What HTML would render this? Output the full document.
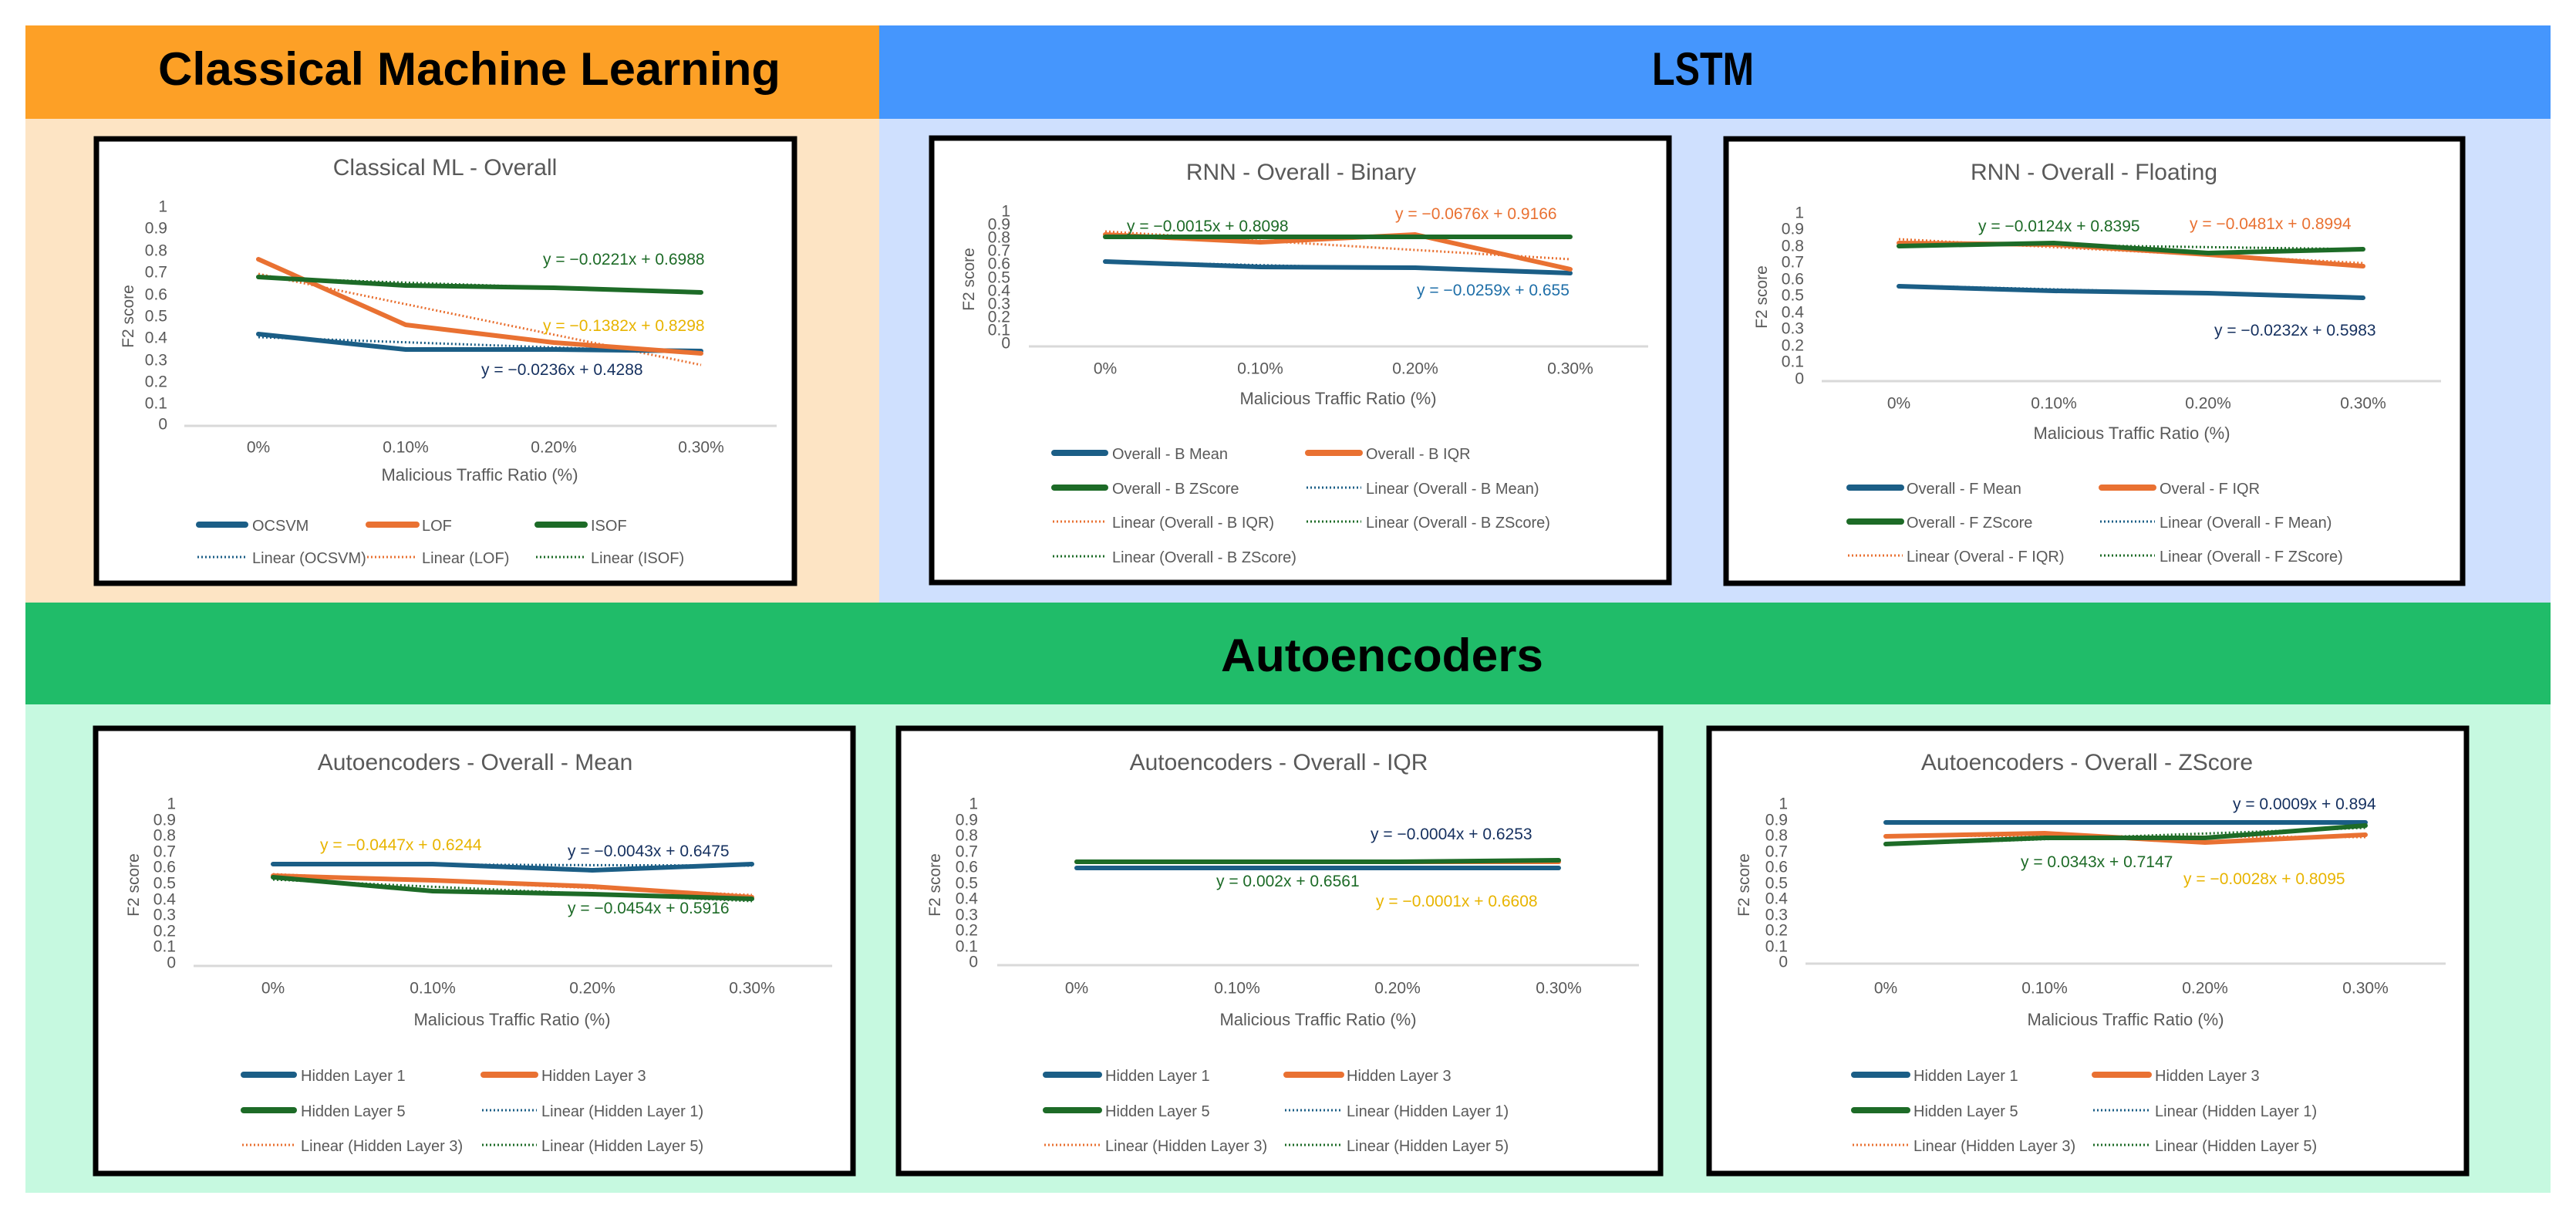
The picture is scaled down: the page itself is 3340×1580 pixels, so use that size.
<!DOCTYPE html>
<html><head><meta charset="utf-8"><style>
html,body{margin:0;padding:0;background:#fff}
svg{display:block}
.hd{font-family:"Liberation Sans",sans-serif;font-weight:bold;fill:#000}
.t{font-family:"Liberation Sans Narrow","Liberation Sans",sans-serif;fill:#595959;font-size:30px}
.tk{font-family:"Liberation Sans Narrow","Liberation Sans",sans-serif;fill:#595959;font-size:21px}
.ax{font-family:"Liberation Sans Narrow","Liberation Sans",sans-serif;fill:#595959;font-size:22px}
.f2{font-family:"Liberation Sans",sans-serif;fill:#595959;font-size:21px}
.lg{font-family:"Liberation Sans Narrow","Liberation Sans",sans-serif;fill:#595959;font-size:20px}
.eq{font-family:"Liberation Sans Narrow","Liberation Sans",sans-serif;font-size:21px}
.b{stroke:#1b5e86;fill:none;stroke-width:6;stroke-linejoin:round;stroke-linecap:round}
.o{stroke:#e97132;fill:none;stroke-width:6;stroke-linejoin:round;stroke-linecap:round}
.g{stroke:#1d6b27;fill:none;stroke-width:6;stroke-linejoin:round;stroke-linecap:round}
.bd{stroke:#1b5e86;fill:none;stroke-width:3;stroke-dasharray:2 3}
.od{stroke:#e97132;fill:none;stroke-width:3;stroke-dasharray:2 3}
.gd{stroke:#1d6b27;fill:none;stroke-width:3;stroke-dasharray:2 3}
.bl{stroke:#1b5e86;stroke-width:8;stroke-linecap:round}
.ol{stroke:#e97132;stroke-width:8;stroke-linecap:round}
.gl{stroke:#1d6b27;stroke-width:8;stroke-linecap:round}
.al{stroke:#d9d9d9;stroke-width:3}
.box{fill:#fff;stroke:#000;stroke-width:7}
</style></head><body>
<svg width="3340" height="1580" viewBox="0 0 3340 1580" xmlns="http://www.w3.org/2000/svg">
<rect x="0" y="0" width="3340" height="1580" fill="#fff"/>
<rect x="33" y="33" width="1107" height="121" fill="#fda026"/>
<rect x="1140" y="33" width="2167" height="121" fill="#4596fd"/>
<rect x="33" y="154" width="1107" height="627" fill="#fde4c4"/>
<rect x="1140" y="154" width="2167" height="627" fill="#cfe0fe"/>
<rect x="33" y="781" width="3274" height="132" fill="#20bc69"/>
<rect x="33" y="913" width="3274" height="633" fill="#c6f9e0"/>
<text class="hd" x="205" y="110" font-size="60" textLength="807" lengthAdjust="spacingAndGlyphs">Classical Machine Learning</text>
<text class="hd" x="2142" y="110" font-size="60" textLength="132" lengthAdjust="spacingAndGlyphs">LSTM</text>
<text class="hd" x="1583" y="870" font-size="60" textLength="418" lengthAdjust="spacingAndGlyphs">Autoencoders</text>

<!-- ML chart -->
<rect class="box" x="125" y="180" width="905" height="576"/>
<text class="t" x="577" y="227" text-anchor="middle">Classical ML - Overall</text>
<g class="tk" text-anchor="end" dominant-baseline="central">
<text x="217" y="268">1</text><text x="217" y="296">0.9</text><text x="217" y="325">0.8</text><text x="217" y="353">0.7</text><text x="217" y="382">0.6</text><text x="217" y="410">0.5</text><text x="217" y="438">0.4</text><text x="217" y="467">0.3</text><text x="217" y="495">0.2</text><text x="217" y="523">0.1</text><text x="217" y="550">0</text>
</g>
<line class="al" x1="239" y1="552" x2="1007" y2="552"/>
<g class="tk" text-anchor="middle" dominant-baseline="central"><text x="335" y="580">0%</text><text x="526" y="580">0.10%</text><text x="718" y="580">0.20%</text><text x="909" y="580">0.30%</text></g>
<text class="ax" x="622" y="623" text-anchor="middle">Malicious Traffic Ratio (%)</text>
<text class="f2" transform="translate(173,410) rotate(-90)" text-anchor="middle">F2 score</text>
<polyline class="bd" points="335,437 909,457"/><polyline class="od" points="335,355 909,473"/><polyline class="gd" points="335,360 909,379"/>
<polyline class="b" points="335,433 526,453 718,453 909,455"/>
<polyline class="o" points="335,336 526,421 718,444 909,458"/>
<polyline class="g" points="335,359 526,370 718,373 909,379"/>
<text class="eq" x="704" y="343" fill="#1d6b27">y = −0.0221x + 0.6988</text>
<text class="eq" x="704" y="429" fill="#e8b400">y = −0.1382x + 0.8298</text>
<text class="eq" x="624" y="486" fill="#15305f">y = −0.0236x + 0.4288</text>
<line class="bl" x1="258" y1="680" x2="318" y2="680"/><text class="lg" x="327" y="688">OCSVM</text>
<line class="ol" x1="478" y1="680" x2="540" y2="680"/><text class="lg" x="547" y="688">LOF</text>
<line class="gl" x1="697" y1="680" x2="758" y2="680"/><text class="lg" x="766" y="688">ISOF</text>
<line class="bd" x1="256" y1="722" x2="320" y2="722"/><text class="lg" x="327" y="730">Linear (OCSVM)</text>
<line class="od" x1="476" y1="722" x2="540" y2="722"/><text class="lg" x="547" y="730">Linear (LOF)</text>
<line class="gd" x1="695" y1="722" x2="760" y2="722"/><text class="lg" x="766" y="730">Linear (ISOF)</text>

<!-- RNN Binary -->
<rect class="box" x="1208" y="179" width="956" height="576"/>
<text class="t" x="1687" y="233" text-anchor="middle">RNN - Overall - Binary</text>
<g class="tk" text-anchor="end" dominant-baseline="central">
<text x="1310" y="274">1</text><text x="1310" y="291">0.9</text><text x="1310" y="308">0.8</text><text x="1310" y="325">0.7</text><text x="1310" y="342">0.6</text><text x="1310" y="360">0.5</text><text x="1310" y="377">0.4</text><text x="1310" y="394">0.3</text><text x="1310" y="411">0.2</text><text x="1310" y="428">0.1</text><text x="1310" y="445">0</text>
</g>
<line class="al" x1="1334" y1="449" x2="2137" y2="449"/>
<g class="tk" text-anchor="middle" dominant-baseline="central"><text x="1433" y="478">0%</text><text x="1634" y="478">0.10%</text><text x="1835" y="478">0.20%</text><text x="2036" y="478">0.30%</text></g>
<text class="ax" x="1735" y="524" text-anchor="middle">Malicious Traffic Ratio (%)</text>
<text class="f2" transform="translate(1263,362) rotate(-90)" text-anchor="middle">F2 score</text>
<polyline class="bd" points="1433,339 2036,353"/><polyline class="od" points="1433,300 2036,336"/><polyline class="gd" points="1433,308 2036,308"/>
<polyline class="b" points="1433,339 1634,346 1835,347 2036,354"/>
<polyline class="o" points="1433,304 1634,314 1835,304 2036,349"/>
<polyline class="g" points="1433,307 1634,307 1835,307 2036,307"/>
<text class="eq" x="1461" y="300" fill="#1d6b27">y = −0.0015x + 0.8098</text>
<text class="eq" x="1809" y="284" fill="#e97132">y = −0.0676x + 0.9166</text>
<text class="eq" x="1837" y="383" fill="#1f6fa8">y = −0.0259x + 0.655</text>
<line class="bl" x1="1367" y1="587" x2="1433" y2="587"/><text class="lg" x="1442" y="595">Overall - B Mean</text>
<line class="ol" x1="1696" y1="587" x2="1763" y2="587"/><text class="lg" x="1771" y="595">Overall - B IQR</text>
<line class="gl" x1="1367" y1="632" x2="1433" y2="632"/><text class="lg" x="1442" y="640">Overall - B ZScore</text>
<line class="bd" x1="1694" y1="632" x2="1765" y2="632"/><text class="lg" x="1771" y="640">Linear (Overall - B Mean)</text>
<line class="od" x1="1365" y1="676" x2="1435" y2="676"/><text class="lg" x="1442" y="684">Linear (Overall - B IQR)</text>
<line class="gd" x1="1694" y1="676" x2="1765" y2="676"/><text class="lg" x="1771" y="684">Linear (Overall - B ZScore)</text>
<line class="gd" x1="1365" y1="721" x2="1435" y2="721"/><text class="lg" x="1442" y="729">Linear (Overall - B ZScore)</text>

<!-- RNN Floating -->
<rect class="box" x="2238" y="180" width="955" height="576"/>
<text class="t" x="2715" y="233" text-anchor="middle">RNN - Overall - Floating</text>
<g class="tk" text-anchor="end" dominant-baseline="central">
<text x="2339" y="276">1</text><text x="2339" y="297">0.9</text><text x="2339" y="319">0.8</text><text x="2339" y="340">0.7</text><text x="2339" y="362">0.6</text><text x="2339" y="383">0.5</text><text x="2339" y="405">0.4</text><text x="2339" y="426">0.3</text><text x="2339" y="448">0.2</text><text x="2339" y="469">0.1</text><text x="2339" y="491">0</text>
</g>
<line class="al" x1="2362" y1="494" x2="3165" y2="494"/>
<g class="tk" text-anchor="middle" dominant-baseline="central"><text x="2462" y="523">0%</text><text x="2663" y="523">0.10%</text><text x="2863" y="523">0.20%</text><text x="3064" y="523">0.30%</text></g>
<text class="ax" x="2764" y="569" text-anchor="middle">Malicious Traffic Ratio (%)</text>
<text class="f2" transform="translate(2291,385) rotate(-90)" text-anchor="middle">F2 score</text>
<polyline class="bd" points="2462,370 3064,385"/><polyline class="od" points="2462,310 3064,341"/><polyline class="gd" points="2462,315 3064,323"/>
<polyline class="b" points="2462,371 2663,377 2863,380 3064,386"/>
<polyline class="o" points="2462,315 2663,317 2863,330 3064,345"/>
<polyline class="g" points="2462,319 2663,315 2863,328 3064,323"/>
<text class="eq" x="2565" y="300" fill="#1d6b27">y = −0.0124x + 0.8395</text>
<text class="eq" x="2839" y="297" fill="#e97132">y = −0.0481x + 0.8994</text>
<text class="eq" x="2871" y="435" fill="#15305f">y = −0.0232x + 0.5983</text>
<line class="bl" x1="2398" y1="632" x2="2465" y2="632"/><text class="lg" x="2472" y="640">Overall - F Mean</text>
<line class="ol" x1="2725" y1="632" x2="2792" y2="632"/><text class="lg" x="2800" y="640">Overal - F IQR</text>
<line class="gl" x1="2398" y1="676" x2="2465" y2="676"/><text class="lg" x="2472" y="684">Overall - F ZScore</text>
<line class="bd" x1="2723" y1="676" x2="2794" y2="676"/><text class="lg" x="2800" y="684">Linear (Overall - F Mean)</text>
<line class="od" x1="2396" y1="720" x2="2467" y2="720"/><text class="lg" x="2472" y="728">Linear (Overal - F IQR)</text>
<line class="gd" x1="2723" y1="720" x2="2794" y2="720"/><text class="lg" x="2800" y="728">Linear (Overall - F ZScore)</text>

<!-- AE Mean -->
<rect class="box" x="124" y="944" width="982" height="577"/>
<text class="t" x="616" y="998" text-anchor="middle">Autoencoders - Overall - Mean</text>
<g class="tk" text-anchor="end" dominant-baseline="central">
<text x="228" y="1042">1</text><text x="228" y="1063">0.9</text><text x="228" y="1083">0.8</text><text x="228" y="1104">0.7</text><text x="228" y="1124">0.6</text><text x="228" y="1145">0.5</text><text x="228" y="1166">0.4</text><text x="228" y="1186">0.3</text><text x="228" y="1207">0.2</text><text x="228" y="1227">0.1</text><text x="228" y="1248">0</text>
</g>
<line class="al" x1="251" y1="1252" x2="1079" y2="1252"/>
<g class="tk" text-anchor="middle" dominant-baseline="central"><text x="354" y="1281">0%</text><text x="561" y="1281">0.10%</text><text x="768" y="1281">0.20%</text><text x="975" y="1281">0.30%</text></g>
<text class="ax" x="664" y="1329" text-anchor="middle">Malicious Traffic Ratio (%)</text>
<text class="f2" transform="translate(180,1147) rotate(-90)" text-anchor="middle">F2 score</text>
<polyline class="bd" points="354,1120 975,1122"/><polyline class="od" points="354,1133 975,1160"/><polyline class="gd" points="354,1140 975,1168"/>
<polyline class="b" points="354,1120 561,1120 768,1128 975,1120"/>
<polyline class="o" points="354,1135 561,1141 768,1149 975,1163"/>
<polyline class="g" points="354,1137 561,1155 768,1159 975,1165"/>
<text class="eq" x="415" y="1102" fill="#e8b400">y = −0.0447x + 0.6244</text>
<text class="eq" x="736" y="1110" fill="#15305f">y = −0.0043x + 0.6475</text>
<text class="eq" x="736" y="1184" fill="#1d6b27">y = −0.0454x + 0.5916</text>
<line class="bl" x1="316" y1="1393" x2="381" y2="1393"/><text class="lg" x="390" y="1401">Hidden Layer 1</text>
<line class="ol" x1="627" y1="1393" x2="694" y2="1393"/><text class="lg" x="702" y="1401">Hidden Layer 3</text>
<line class="gl" x1="316" y1="1439" x2="381" y2="1439"/><text class="lg" x="390" y="1447">Hidden Layer 5</text>
<line class="bd" x1="625" y1="1439" x2="696" y2="1439"/><text class="lg" x="702" y="1447">Linear (Hidden Layer 1)</text>
<line class="od" x1="314" y1="1484" x2="383" y2="1484"/><text class="lg" x="390" y="1492">Linear (Hidden Layer 3)</text>
<line class="gd" x1="625" y1="1484" x2="696" y2="1484"/><text class="lg" x="702" y="1492">Linear (Hidden Layer 5)</text>

<!-- AE IQR -->
<rect class="box" x="1165" y="944" width="988" height="577"/>
<text class="t" x="1658" y="998" text-anchor="middle">Autoencoders - Overall - IQR</text>
<g class="tk" text-anchor="end" dominant-baseline="central">
<text x="1268" y="1042">1</text><text x="1268" y="1063">0.9</text><text x="1268" y="1083">0.8</text><text x="1268" y="1104">0.7</text><text x="1268" y="1124">0.6</text><text x="1268" y="1145">0.5</text><text x="1268" y="1165">0.4</text><text x="1268" y="1186">0.3</text><text x="1268" y="1206">0.2</text><text x="1268" y="1227">0.1</text><text x="1268" y="1247">0</text>
</g>
<line class="al" x1="1293" y1="1251" x2="2125" y2="1251"/>
<g class="tk" text-anchor="middle" dominant-baseline="central"><text x="1396" y="1281">0%</text><text x="1604" y="1281">0.10%</text><text x="1812" y="1281">0.20%</text><text x="2021" y="1281">0.30%</text></g>
<text class="ax" x="1709" y="1329" text-anchor="middle">Malicious Traffic Ratio (%)</text>
<text class="f2" transform="translate(1219,1147) rotate(-90)" text-anchor="middle">F2 score</text>
<polyline class="bd" points="1396,1125 2021,1125"/><polyline class="od" points="1396,1117 2021,1117"/><polyline class="gd" points="1396,1117 2021,1116"/>
<polyline class="b" points="1396,1125 1604,1125 1812,1125 2021,1125"/>
<polyline class="o" points="1396,1117 1604,1117 1812,1117 2021,1117"/>
<polyline class="g" points="1396,1117 1604,1117 1812,1117 2021,1115"/>
<text class="eq" x="1777" y="1088" fill="#15305f">y = −0.0004x + 0.6253</text>
<text class="eq" x="1577" y="1149" fill="#1d6b27">y = 0.002x + 0.6561</text>
<text class="eq" x="1784" y="1175" fill="#e8b400">y = −0.0001x + 0.6608</text>
<line class="bl" x1="1356" y1="1393" x2="1425" y2="1393"/><text class="lg" x="1433" y="1401">Hidden Layer 1</text>
<line class="ol" x1="1668" y1="1393" x2="1739" y2="1393"/><text class="lg" x="1746" y="1401">Hidden Layer 3</text>
<line class="gl" x1="1356" y1="1439" x2="1425" y2="1439"/><text class="lg" x="1433" y="1447">Hidden Layer 5</text>
<line class="bd" x1="1666" y1="1439" x2="1741" y2="1439"/><text class="lg" x="1746" y="1447">Linear (Hidden Layer 1)</text>
<line class="od" x1="1354" y1="1484" x2="1427" y2="1484"/><text class="lg" x="1433" y="1492">Linear (Hidden Layer 3)</text>
<line class="gd" x1="1666" y1="1484" x2="1741" y2="1484"/><text class="lg" x="1746" y="1492">Linear (Hidden Layer 5)</text>

<!-- AE ZScore -->
<rect class="box" x="2216" y="944" width="982" height="577"/>
<text class="t" x="2706" y="998" text-anchor="middle">Autoencoders - Overall - ZScore</text>
<g class="tk" text-anchor="end" dominant-baseline="central">
<text x="2318" y="1042">1</text><text x="2318" y="1063">0.9</text><text x="2318" y="1083">0.8</text><text x="2318" y="1104">0.7</text><text x="2318" y="1124">0.6</text><text x="2318" y="1145">0.5</text><text x="2318" y="1165">0.4</text><text x="2318" y="1186">0.3</text><text x="2318" y="1206">0.2</text><text x="2318" y="1227">0.1</text><text x="2318" y="1247">0</text>
</g>
<line class="al" x1="2341" y1="1249" x2="3171" y2="1249"/>
<g class="tk" text-anchor="middle" dominant-baseline="central"><text x="2445" y="1281">0%</text><text x="2651" y="1281">0.10%</text><text x="2859" y="1281">0.20%</text><text x="3067" y="1281">0.30%</text></g>
<text class="ax" x="2756" y="1329" text-anchor="middle">Malicious Traffic Ratio (%)</text>
<text class="f2" transform="translate(2268,1147) rotate(-90)" text-anchor="middle">F2 score</text>
<polyline class="bd" points="2445,1066 3067,1066"/><polyline class="od" points="2445,1083 3067,1085"/><polyline class="gd" points="2445,1095 3067,1073"/>
<polyline class="b" points="2445,1066 2651,1066 2859,1066 3067,1066"/>
<polyline class="o" points="2445,1084 2651,1080 2859,1092 3067,1082"/>
<polyline class="g" points="2445,1094 2651,1086 2859,1086 3067,1070"/>
<text class="eq" x="2895" y="1049" fill="#15305f">y = 0.0009x + 0.894</text>
<text class="eq" x="2620" y="1124" fill="#1d6b27">y = 0.0343x + 0.7147</text>
<text class="eq" x="2831" y="1146" fill="#e8b400">y = −0.0028x + 0.8095</text>
<line class="bl" x1="2404" y1="1393" x2="2473" y2="1393"/><text class="lg" x="2481" y="1401">Hidden Layer 1</text>
<line class="ol" x1="2716" y1="1393" x2="2786" y2="1393"/><text class="lg" x="2794" y="1401">Hidden Layer 3</text>
<line class="gl" x1="2404" y1="1439" x2="2473" y2="1439"/><text class="lg" x="2481" y="1447">Hidden Layer 5</text>
<line class="bd" x1="2714" y1="1439" x2="2788" y2="1439"/><text class="lg" x="2794" y="1447">Linear (Hidden Layer 1)</text>
<line class="od" x1="2402" y1="1484" x2="2475" y2="1484"/><text class="lg" x="2481" y="1492">Linear (Hidden Layer 3)</text>
<line class="gd" x1="2714" y1="1484" x2="2788" y2="1484"/><text class="lg" x="2794" y="1492">Linear (Hidden Layer 5)</text>
</svg>
</body></html>
